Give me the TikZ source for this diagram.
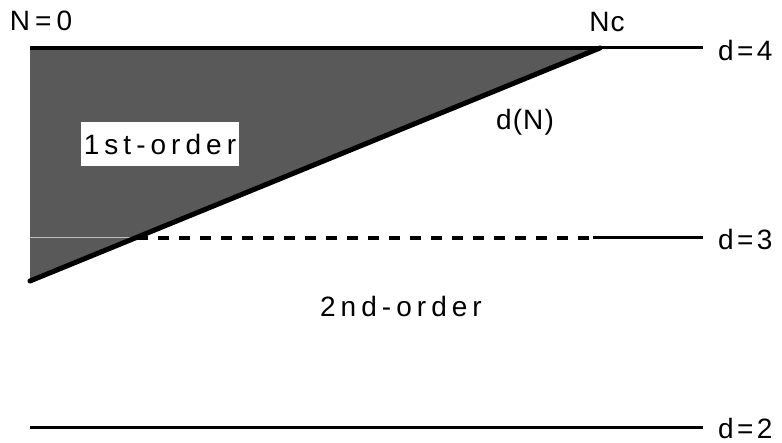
\documentclass[tikz,border=0pt]{standalone}
\usepackage{fontspec}
\setmainfont{Liberation Sans}[LetterSpace=18]
\usetikzlibrary{positioning}
\begin{document}
\begin{tikzpicture}[x=1pt,y=-1pt,font=\fontsize{28}{32}\selectfont,
  level/.style={line width=3pt,shorten >=15pt},
  lbl/.style={anchor=west,inner sep=0pt,font=\fontsize{28}{32}\selectfont\addfontfeature{LetterSpace=12}},
  tight/.style={font=\fontsize{28}{32}\selectfont\addfontfeature{LetterSpace=4}}]
\useasboundingbox (0,0) rectangle (782,443);
% corners of the 1st-order region
\coordinate (o) at (30,48);
\coordinate (nc) at (600,48);
\coordinate (b) at (30,281);
\fill[black!65] (o)--(nc)--(b)--cycle;
\draw[black!25,thin] (30,237)--(137,237);
\draw[line width=3.5pt] (o)--(nc);
\draw[line width=5pt,line cap=round] (b)--(nc);
% labels
\node (n0) at (41,21) {N=0};
\node[tight] (ncl) at (607,22) {Nc};
\node[lbl] (d4) at (718,50) {d=4};
\node[lbl] (d3) at (718,239) {d=3};
\node[lbl] (d2) at (718,428) {d=2};
\node[tight] (dn) at (525,122) {d(N)};
\node[fill=white,minimum height=44pt,inner xsep=3pt] (first) at (160,144) {1st-order};
\node (second) at (401,306) {2nd-order};
% levels
\coordinate (c3) at (137,238);
\coordinate (e3) at (593,238);
\coordinate (c2) at (30,428);
\draw[line width=4pt,dash pattern=on 11pt off 10pt] (c3)--(589,238);
\draw[level] (nc)--(d4.west |- nc);
\draw[level] (e3)--(d3.west |- e3);
\draw[level] (c2)--(d2.west |- c2);
\end{tikzpicture}
\end{document}
